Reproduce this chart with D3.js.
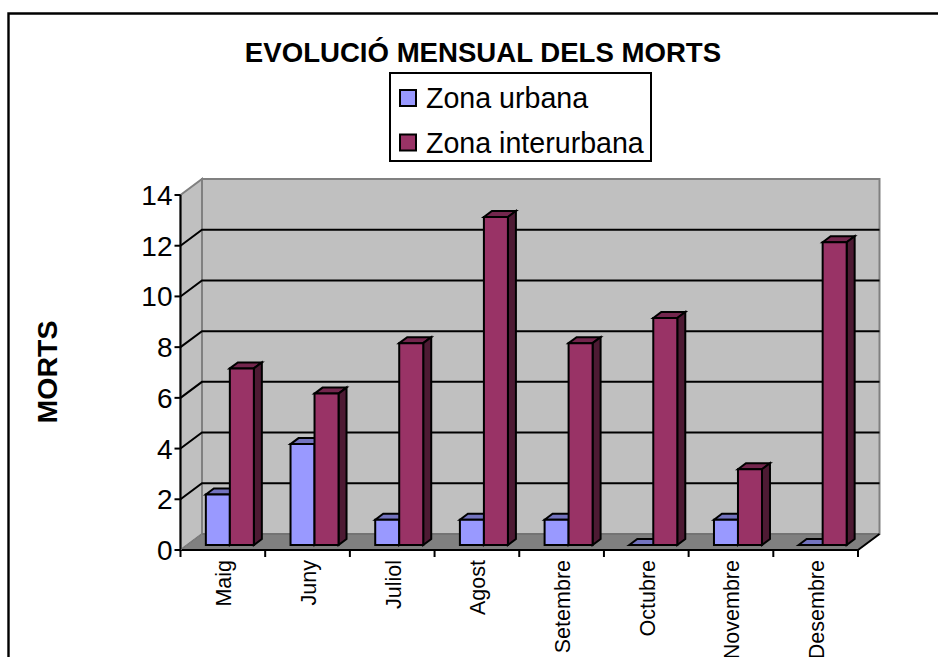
<!DOCTYPE html>
<html><head><meta charset="utf-8">
<style>html,body{margin:0;padding:0;background:#fff;overflow:hidden}svg{display:block}text{font-family:"Liberation Sans",Arial,sans-serif;fill:#000}</style>
<script src="https://cdn.jsdelivr.net/npm/d3@7"></script></head><body>
<script>
const months = ["Maig","Juny","Juliol","Agost","Setembre","Octubre","Novembre","Desembre"];
const urbana = [2,4,1,1,1,0,1,0];
const interurbana = [7,6,8,13,8,9,3,12];
const seriesNames = ["Zona urbana","Zona interurbana"];
const yTicks = [0,2,4,6,8,10,12,14];

const svg = d3.select("body").append("svg").attr("width",938).attr("height",657);
svg.append("path").attr("d","M8.5,700V13.5H940").attr("fill","none").attr("stroke","#000").attr("stroke-width",2.4);

const X0=180.5, X1=858, Y0=550, Y1=195, DX=21.5, DY=-16;
const x = d3.scaleBand().domain(months).range([X0,X1]);
const y = d3.scaleLinear().domain([0,14]).range([Y0,Y1]);
const line = d3.line();
const poly = (pts,fill,stroke,sw)=>svg.append("path").attr("d",line(pts)+"Z").attr("fill",fill).attr("stroke",stroke||"none").attr("stroke-width",sw||0).attr("stroke-linejoin","miter");

// walls
poly([[X0,Y1],[X0+DX,Y1+DY],[X0+DX,Y0+DY],[X0,Y0]],"#c0c0c0","#808080",2);
poly([[X0+DX,Y1+DY],[X1+DX,Y1+DY],[X1+DX,Y0+DY],[X0+DX,Y0+DY]],"#c0c0c0","#808080",2);
poly([[X0,Y0],[X0+DX,Y0+DY],[X1+DX,Y0+DY],[X1,Y0]],"#808080","#666",1);

// gridlines
yTicks.filter(t=>t>0&&t<14).forEach(t=>{
  svg.append("path").attr("d",line([[X0,y(t)],[X0+DX,y(t)+DY],[X1+DX,y(t)+DY]])).attr("fill","none").attr("stroke","#000").attr("stroke-width",2);
});

// axes
svg.append("path").attr("d",line([[X0,Y1],[X0,Y0],[X1,Y0]])).attr("fill","none").attr("stroke","#000").attr("stroke-width",2);
svg.append("path").attr("d",line([[X1,Y0],[X1+DX,Y0+DY]])).attr("fill","none").attr("stroke","#000").attr("stroke-width",2);
svg.append("path").attr("d",line([[X0,Y0],[X0+DX,Y0+DY]])).attr("fill","none").attr("stroke","#808080").attr("stroke-width",1);
yTicks.forEach(t=>{
  svg.append("line").attr("x1",X0-6).attr("x2",X0).attr("y1",y(t)).attr("y2",y(t)).attr("stroke","#000").attr("stroke-width",2);
  svg.append("text").attr("x",X0-8).attr("y",y(t)+10).attr("text-anchor","end").attr("font-size",28).text(t);
});
[...months.map(m=>x(m)),X1].forEach(v=>{
  svg.append("line").attr("x1",v).attr("x2",v).attr("y1",Y0).attr("y2",Y0+7).attr("stroke","#000").attr("stroke-width",2);
});
months.forEach(m=>{
  const cx=x(m)+x.bandwidth()/2-0.5;
  svg.append("text").attr("transform",`translate(${cx+9},${Y0+10}) rotate(-90)`).attr("text-anchor","end").attr("font-size",21.5).text(m);
});

// bars
const BW=24, dx=8, dy=-6, BASE=545, OFF=7;
const h = v=>(Y0-y(v))*0.995;
function bar(px,v,front,top,side){
  const t=BASE-h(v);
  poly([[px,t],[px+dx,t+dy],[px+BW+dx,t+dy],[px+BW,t]],top,"#000",2);
  poly([[px+BW,t],[px+BW+dx,t+dy],[px+BW+dx,BASE+dy],[px+BW,BASE]],side,"#000",2);
  if(v>0) poly([[px,t],[px+BW,t],[px+BW,BASE],[px,BASE]],front,"#000",2);
}
months.forEach((m,i)=>{
  const c=x(m)+x.bandwidth()/2+OFF;
  bar(c-BW,urbana[i],"#9999ff","#7373bf","#4d4d80");
  bar(c,interurbana[i],"#993366","#73264d","#4d1a33");
});

// title
svg.append("text").attr("x",483).attr("y",62).attr("text-anchor","middle").attr("font-size",27.6).attr("font-weight","bold").text("EVOLUCIÓ MENSUAL DELS MORTS");
svg.append("text").attr("transform","translate(57,372) rotate(-90)").attr("text-anchor","middle").attr("font-size",28.5).attr("font-weight","bold").text("MORTS");

// legend
svg.append("rect").attr("x",390).attr("y",73).attr("width",261).attr("height",88).attr("fill","#fff").attr("stroke","#000").attr("stroke-width",2);
const legendColors=["#9999ff","#993366"];
seriesNames.forEach((n,i)=>{
  const ly=98+i*44.5;
  svg.append("rect").attr("x",400).attr("y",ly-8).attr("width",16).attr("height",16).attr("fill",legendColors[i]).attr("stroke","#000").attr("stroke-width",2);
  svg.append("text").attr("x",426).attr("y",ly+10).attr("font-size",28.6).text(n);
});
</script></body></html>
